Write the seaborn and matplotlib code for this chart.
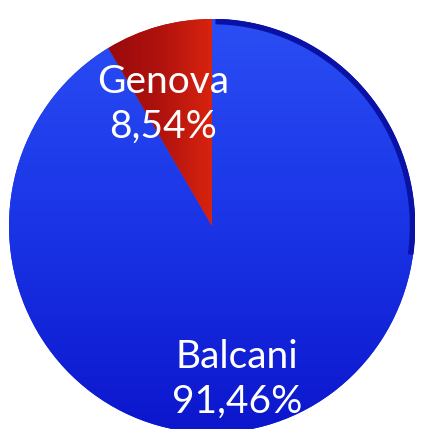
import numpy as np
import matplotlib
matplotlib.use("Agg")
import matplotlib.pyplot as plt
from matplotlib.colors import LinearSegmentedColormap
import seaborn as sns

# Dati
regioni = ["Genova", "Balcani"]
quote = [8.54, 91.46]
etichette = ["Genova\n8,54%", "Balcani\n91,46%"]

sns.set_theme(style="white")
plt.rcParams['font.family'] = ['Lato', 'DejaVu Sans']

W, H = 426, 429
fig = plt.figure(figsize=(W / 100, H / 100), dpi=100)
# asse posizionato in pixel: torta leggermente ellittica
ax = fig.add_axes([9 / W, -4 / H, 406 / W, 414 / H])

colori = ["#b8140e", "#1630e4"]
wedges, _ = ax.pie(quote, colors=colori, startangle=90, counterclock=True,
                   radius=1, wedgeprops=dict(linewidth=0))
ax.set_aspect('auto')
ax.axis('off')

# sfumature per dare profondità (chiaro in alto, scuro in basso)
grad_blu = LinearSegmentedColormap.from_list("blu", ["#2a4ef4", "#1a34e6", "#0c16cc"])
grad_rosso = LinearSegmentedColormap.from_list("rosso", ["#980a0c", "#b0120e", "#d8230e"])
yy = np.linspace(0, 1, 256).reshape(-1, 1) * np.ones((1, 2))
xx = np.linspace(0, 1, 256).reshape(1, -1) * np.ones((2, 1))
img_b = ax.imshow(yy, cmap=grad_blu, extent=(-1, 1, -1, 1), aspect='auto', zorder=2)
img_b.set_clip_path(wedges[1])
x0 = np.cos(np.radians(90 + 360 * quote[0] / 100))
img_r = ax.imshow(xx, cmap=grad_rosso, extent=(x0, 0, 0, 1), aspect='auto', zorder=2)
img_r.set_clip_path(wedges[0])
ax.set_xlim(-1, 1)
ax.set_ylim(-1, 1)

# bordo scuro in alto a destra
theta = np.linspace(np.radians(-8), np.radians(89), 200)
ax.plot(0.988 * np.cos(theta), 0.988 * np.sin(theta), color="#0a12a6",
        lw=4, solid_capstyle='butt', zorder=3)

pos = [(163 / W, 1 - 104 / H), (237 / W, 1 - 379 / H)]
for testo, (x, y) in zip(etichette, pos):
    fig.text(x, y, testo, color="white", fontsize=28, ha="center", va="center",
             linespacing=1.3, zorder=5)

fig.savefig("out.png", dpi=100)
